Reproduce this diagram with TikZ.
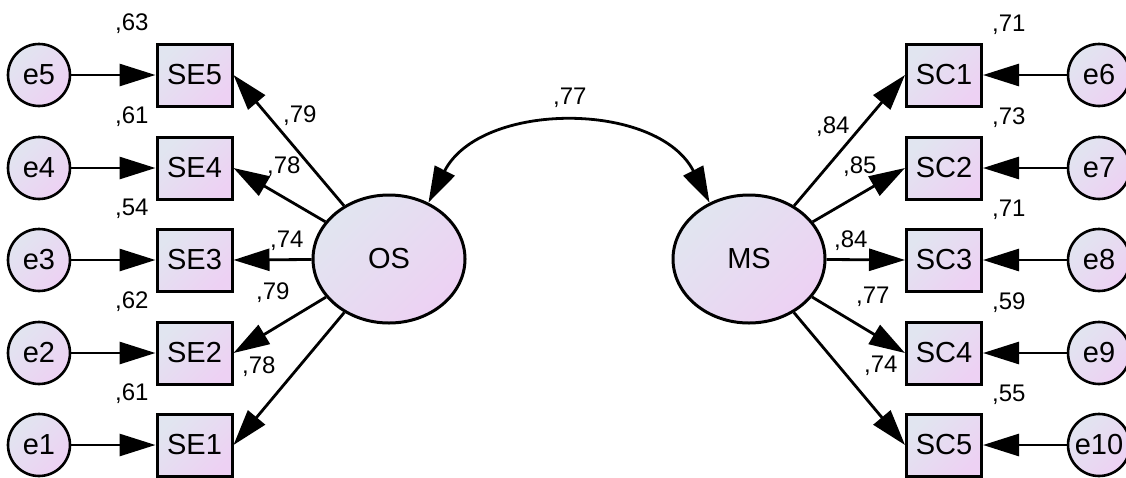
\documentclass[tikz,border=0pt]{standalone}
\usepackage{fontspec}
\setmainfont{Liberation Sans}
\usetikzlibrary{arrows.meta,shapes.geometric}
\definecolor{fillA}{RGB}{225,229,240}
\definecolor{fillB}{RGB}{237,209,243}
\begin{document}
\begin{tikzpicture}[x=1pt,y=-1pt,
  gradfill/.style={top color=fillA, bottom color=fillB, shading angle=45},
  obs/.style={draw, line width=3pt, gradfill, minimum width=75pt, minimum height=62pt,
    inner sep=0pt, font=\fontsize{29}{32}\selectfont},
  err/.style={draw, circle, line width=2.6pt, gradfill, minimum size=62pt,
    inner sep=0pt, font=\fontsize{29}{32}\selectfont},
  lat/.style={draw, ellipse, line width=3pt, gradfill, minimum width=152pt,
    minimum height=128pt, inner sep=0pt, font=\fontsize{29}{32}\selectfont},
  link/.style={line width=2.8pt, -{Triangle[length=36pt,width=22pt]}},
  est/.style={font=\fontsize{24}{26}\selectfont, anchor=base west, inner sep=0pt}
]
\useasboundingbox (0,0) rectangle (1126,477);

% latent factors
\node[lat] (OS) at (389,259) {OS};
\node[lat] (MS) at (749,259) {MS};

% OS indicators and their errors
\foreach \i/\y in {5/75,4/168,3/260,2/353,1/445}{
  \node[obs] (SE\i) at (194.5,\y) {SE\i};
  \node[err] (e\i) at (39,\y) {e\i};
  \draw[link] (e\i) -- (SE\i);
  \draw[link] (OS) -- (SE\i.east);
}

% MS indicators and their errors
\foreach \i/\e/\y in {1/6/75,2/7/168,3/8/260,4/9/353,5/10/445}{
  \node[obs] (SC\i) at (944,\y) {SC\i};
  \node[err] (e\e) at (1099,\y) {e\e};
  \draw[link] (e\e) -- (SC\i);
  \draw[link] (MS) -- (SC\i.west);
}

% covariance between the factors
\draw[line width=2.8pt, {Triangle[length=36pt,width=22pt]}-{Triangle[length=36pt,width=22pt]}]
  (OS.55) .. controls +(52,-102) and +(-52,-102) .. (MS.125);
\node[est] (cov) at (553,104) {,77};

% squared multiple correlations
\node[est] (r5) at (115,30) {,63};
\node[est] (r4) at (115,123) {,61};
\node[est] (r3) at (115,215) {,54};
\node[est] (r2) at (115,308) {,62};
\node[est] (r1) at (115,400) {,61};
\node[est] (q1) at (992,31) {,71};
\node[est] (q2) at (992,124) {,73};
\node[est] (q3) at (992,216) {,71};
\node[est] (q4) at (992,309) {,59};
\node[est] (q5) at (992,401) {,55};

% standardized loadings
\node[est] (l5) at (283,122) {,79};
\node[est] (l4) at (267,173) {,78};
\node[est] (l3) at (270,247) {,74};
\node[est] (l2) at (256,299) {,79};
\node[est] (l1) at (242,373) {,78};
\node[est] (m1) at (816,133) {,84};
\node[est] (m2) at (843,173) {,85};
\node[est] (m3) at (834,247) {,84};
\node[est] (m4) at (856,303) {,77};
\node[est] (m5) at (864,372) {,74};
\end{tikzpicture}
\end{document}
